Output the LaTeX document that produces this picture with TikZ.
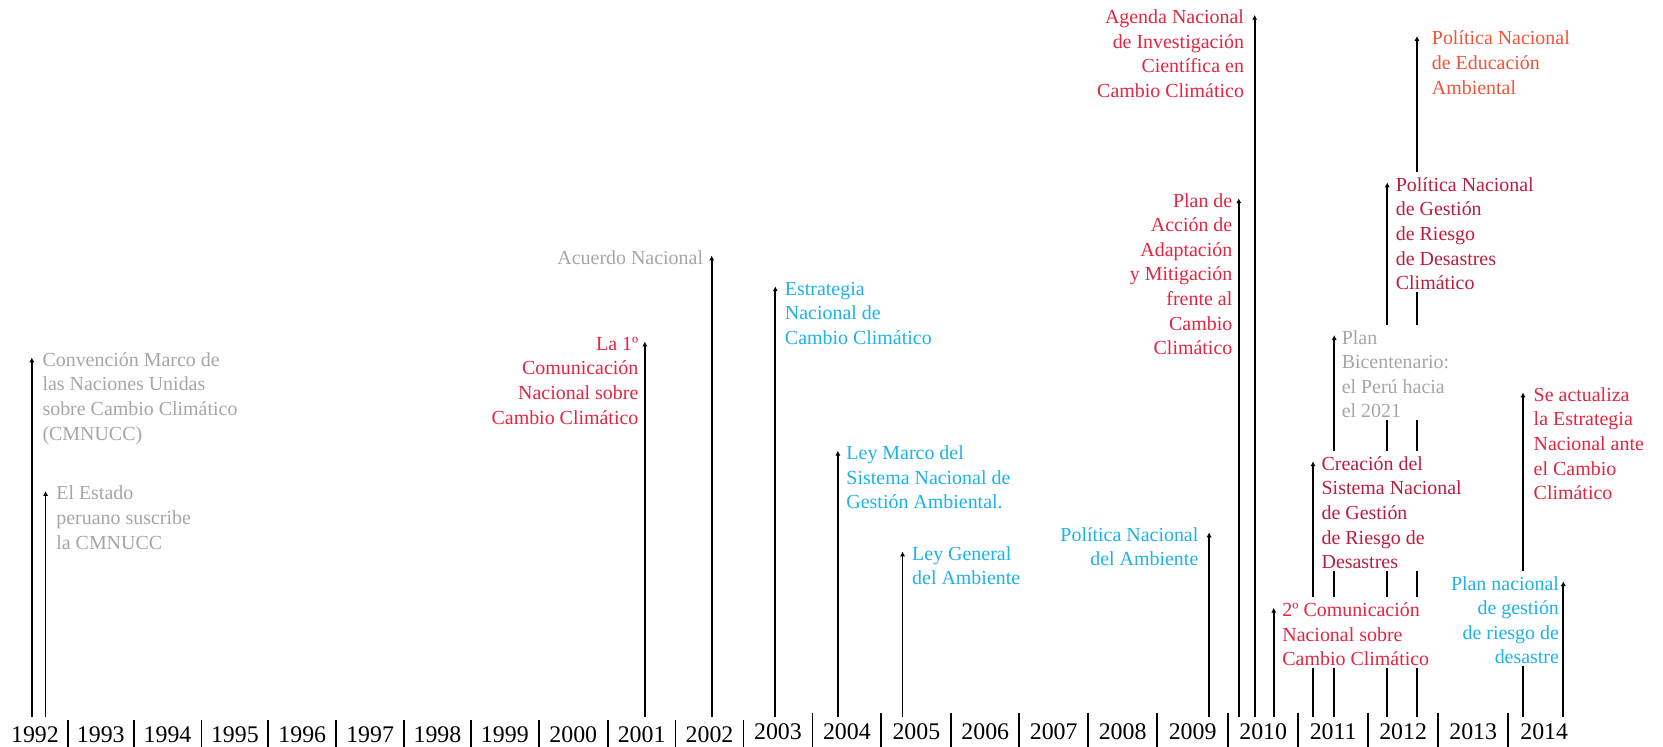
\documentclass[tikz,border=0pt]{standalone}
\usepackage{fontspec}
\setmainfont{Liberation Serif}
\usetikzlibrary{arrows.meta}
\definecolor{tlgray}{RGB}{166,166,170}
\definecolor{tlred}{RGB}{228,36,64}
\definecolor{tldark}{RGB}{188,28,62}
\definecolor{tlorange}{RGB}{240,84,56}
\definecolor{tlcyan}{RGB}{28,178,236}
\begin{document}
\begin{tikzpicture}[x=0.02cm, y=-0.02cm,
  ev/.style={font=\fontsize{10.7}{13.2}\selectfont, inner xsep=1pt, inner ysep=1pt, fill=white},
  evr/.style={ev, align=left, anchor=north west},
  evl/.style={ev, align=right, anchor=north east},
  pin/.style={line width=0.95pt, -{Latex[length=2.6pt,width=2.8pt]}},
  yr/.style={font=\fontsize{12.8}{14}\selectfont, anchor=base, inner sep=0pt},
  sep/.style={line width=0.95pt}]
\useasboundingbox (0,0) rectangle (1568,704);
% tips of the event lines
\coordinate (t-cmnucc) at (30,337);
\coordinate (t-suscribe) at (43,463);
\coordinate (t-comun1) at (608,322);
\coordinate (t-acuerdo) at (671,241);
\coordinate (t-enccI) at (731,270);
\coordinate (t-leymarco) at (790,425);
\coordinate (t-leygeneral) at (851,520);
\coordinate (t-polamb) at (1140,502);
\coordinate (t-planaccion) at (1168,187);
\coordinate (t-agenda) at (1183,14);
\coordinate (t-comun2) at (1201,573);
\coordinate (t-sinagerd) at (1238,435);
\coordinate (t-bicent) at (1258,316);
\coordinate (t-polgrd) at (1308,172);
\coordinate (t-poledu) at (1336,34);
\coordinate (t-enccII) at (1436,370);
\coordinate (t-plangrd) at (1474,548);
\foreach \n/\bx in {cmnucc/30, suscribe/43, comun1/608, acuerdo/671, enccI/731,
    leymarco/790, leygeneral/851, polamb/1140, planaccion/1168, agenda/1183,
    comun2/1201, sinagerd/1238, bicent/1258, polgrd/1308, poledu/1336,
    enccII/1436, plangrd/1474}
  \coordinate (b-\n) at (\bx,676);
\foreach \n in {cmnucc, suscribe, comun1, acuerdo, enccI, leymarco, leygeneral,
    polamb, planaccion, agenda, comun2, sinagerd, bicent, polgrd, poledu,
    enccII, plangrd}
  \draw[pin] (b-\n) -- (t-\n);
% years
\foreach \sx/\sy in {64/679, 126/679, 190/679, 253/679, 317/679, 381/679, 444/679,
    508/679, 573/679, 637/679, 701/679, 766/672, 831/672, 897/672, 961/672,
    1026/672, 1091/672, 1158/672, 1224/672, 1290/672, 1356/672, 1422/672}
  \draw[sep] (\sx,\sy) -- (\sx,704);
\foreach \yr/\cx/\by in {1992/33/700, 1993/95/700, 1994/158/700, 1995/221.5/700,
    1996/285/700, 1997/349/700, 1998/412.5/700, 1999/476/700, 2000/540.5/700,
    2001/605/700, 2002/669/700, 2003/733.5/697, 2004/798.5/697, 2005/864/697,
    2006/929/697, 2007/993.5/697, 2008/1058.5/697, 2009/1124.5/697, 2010/1191/697,
    2011/1257/697, 2012/1323/697, 2013/1389/697, 2014/1456/697}
  \node[yr] (y\yr) at (\cx,\by) {\yr};
% events
\node[evr, text=tlgray] (cmnucc) at (38,327) {\strut Convención Marco de\\las Naciones Unidas\\sobre Cambio Climático\\(CMNUCC)};
\node[evr, text=tlgray] (suscribe) at (51,453) {\strut El Estado\\peruano suscribe\\la CMNUCC};
\node[evl, text=tlred] (comun1) at (604,312) {\strut La 1º\\Comunicación\\Nacional sobre\\Cambio Climático};
\node[evl, text=tlgray] (acuerdo) at (665,231) {\strut Acuerdo Nacional};
\node[evr, text=tlcyan] (enccI) at (738,260) {\strut Estrategia\\Nacional de\\Cambio Climático};
\node[evr, text=tlcyan] (leymarco) at (796,415) {\strut Ley Marco del\\Sistema Nacional de\\Gestión Ambiental.};
\node[evr, text=tlcyan] (leygeneral) at (858,510) {\strut Ley General\\del Ambiente};
\node[evl, text=tlcyan] (polamb) at (1132,492) {\strut Política Nacional\\del Ambiente};
\node[evl, text=tlred] (planaccion) at (1164,177) {\strut Plan de\\Acción de\\Adaptación\\y Mitigación\\frente al\\Cambio\\Climático};
\node[evl, text=tlred] (agenda) at (1175,4) {\strut Agenda Nacional\\de Investigación\\Científica en\\Cambio Climático};
\node[evr, text=tlgray] (bicent) at (1263,306) {\strut Plan\\Bicentenario:\\el Perú hacia\\el 2021};
\node[evr, text=tldark] (polgrd) at (1314,162) {\strut Política Nacional\\de Gestión\\de Riesgo\\de Desastres\\Climático};
\node[evr, text=tlorange] (poledu) at (1348,24) {\strut Política Nacional\\de Educación\\Ambiental};
\node[evr, text=tldark] (sinagerd) at (1244,425) {\strut Creación del\\Sistema Nacional\\de Gestión\\de Riesgo de\\Desastres};
\node[evr, text=tlred] (comun2) at (1207,563) {\strut 2º Comunicación\\Nacional sobre\\Cambio Climático};
\node[evr, text=tlred] (enccII) at (1444,360) {\strut Se actualiza\\la Estrategia\\Nacional ante\\el Cambio\\Climático};
\node[evl, text=tlcyan] (plangrd) at (1472,538) {\strut Plan nacional\\de gestión\\de riesgo de\\desastre};
\end{tikzpicture}
\end{document}
